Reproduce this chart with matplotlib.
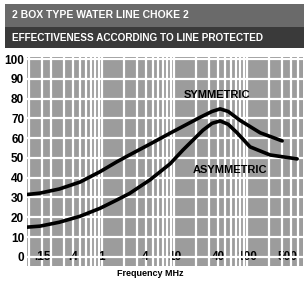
import numpy as np
import matplotlib
matplotlib.use("Agg")
import matplotlib.pyplot as plt
from matplotlib.patches import Rectangle

plt.rcParams['font.family'] = ['Liberation Sans Narrow', 'Liberation Sans', 'DejaVu Sans']

# data
freq_sym = [0.093, 0.14, 0.26, 0.5, 0.94, 1.6, 2.4, 4.6, 8.7, 22.5, 33, 42.6, 55, 80, 152, 305]
att_sym = [31.5, 32.2, 34.3, 37.8, 43, 48, 51.5, 57, 62.5, 70.5, 73.5, 74.8, 73.5, 69, 62.7, 58.6]

freq_asym = [0.093, 0.14, 0.26, 0.5, 0.94, 1.6, 2.4, 4.6, 8.7, 13.1, 24.7, 33, 42.6, 55, 73, 110, 208, 491]
att_asym = [15, 15.5, 17.5, 20.5, 24.5, 28.7, 32, 38.9, 47, 54, 64, 67.5, 68.7, 67, 62.7, 55.6, 51.5, 49.5]

x_ticks = [0.15, 0.4, 1, 4, 10, 40, 100, 500]
x_labels = ['.15', '.4', '1', '4', '10', '40', '100', '500']
y_ticks = [0, 10, 20, 30, 40, 50, 60, 70, 80, 90, 100]

fig = plt.figure(figsize=(3.06, 2.81), dpi=100)

# title box
fig.patches.append(Rectangle((0.015, 0.83), 0.98, 0.155, transform=fig.transFigure,
                             facecolor='#3a3a3a', edgecolor='none', zorder=0))
fig.patches.append(Rectangle((0.015, 0.905), 0.98, 0.08, transform=fig.transFigure,
                             facecolor='#6a6a6a', edgecolor='none', zorder=0))
fig.text(0.04, 0.945, "2 BOX TYPE WATER LINE CHOKE 2", color='white', fontsize=7.5,
         fontweight='bold', va='center', ha='left')
fig.text(0.04, 0.865, "EFFECTIVENESS ACCORDING TO LINE PROTECTED", color='white', fontsize=7.2,
         fontweight='bold', va='center', ha='left')

ax = fig.add_axes([0.088, 0.053, 0.902, 0.744])
ax.set_facecolor('#9c9c9c')
ax.set_xscale('log')
ax.set_xlim(0.0927, 590)
ax.set_ylim(-4.7, 101)

ax.plot(freq_sym, att_sym, color='black', lw=2.6, solid_capstyle='round', zorder=3)
ax.plot(freq_asym, att_asym, color='black', lw=2.6, solid_capstyle='round', zorder=3)

ax.text(38.7, 82, "SYMMETRIC", fontsize=8, fontweight='bold', ha='center', va='center', zorder=4)
ax.text(59, 44, "ASYMMETRIC", fontsize=8, fontweight='bold', ha='center', va='center', zorder=4)

ax.set_xticks(x_ticks)
ax.set_xticklabels(x_labels)
ax.xaxis.set_minor_locator(matplotlib.ticker.LogLocator(subs=np.arange(1, 10)))
ax.xaxis.set_minor_formatter(matplotlib.ticker.NullFormatter())
ax.set_yticks(y_ticks)
ax.tick_params(axis='x', which='both', length=0, pad=-11, labelsize=8.5)
ax.tick_params(axis='y', length=0, pad=2, labelsize=8.5)
for lab in ax.get_xticklabels() + ax.get_yticklabels():
    lab.set_fontweight('bold')
ax.get_xticklabels()[-1].set_horizontalalignment('right')

ax.grid(True, which='both', axis='x', color='white', lw=1.6)
ax.grid(True, which='major', axis='y', color='white', lw=1.6)
ax.set_axisbelow(True)
for s in ax.spines.values():
    s.set_visible(False)

fig.text(0.49, 0.012, "Frequency MHz", fontsize=6.5, fontweight='bold', ha='center', va='bottom')

fig.savefig('out.png', dpi=100)
